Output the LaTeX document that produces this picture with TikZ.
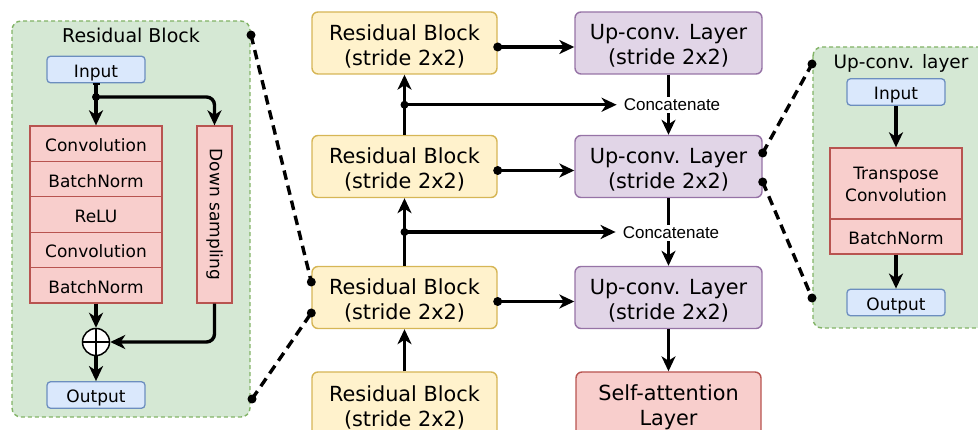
\documentclass[tikz,border=0pt]{standalone}
\usepackage{fontspec}
\setmainfont{DejaVu Sans}
\newfontfamily\catfont{Liberation Sans}
\usetikzlibrary{arrows.meta,calc}

\definecolor{ylwF}{HTML}{FFF2CC}\definecolor{ylwD}{HTML}{D6B656}
\definecolor{pplF}{HTML}{E1D5E7}\definecolor{pplD}{HTML}{9673A6}
\definecolor{redF}{HTML}{F8CECC}\definecolor{redD}{HTML}{B85450}
\definecolor{bluF}{HTML}{DAE8FC}\definecolor{bluD}{HTML}{6C8EBF}
\definecolor{grnF}{HTML}{D5E8D4}\definecolor{grnD}{HTML}{82B366}

\tikzset{
  x=1pt, y=-1pt,
  mainbox/.style={draw, line width=1.4pt, rounded corners=6pt, inner sep=0pt},
  boxtext/.style={align=center, inner sep=0pt, font=\fontsize{20.8}{25}\selectfont},
  smalltext/.style={align=center, inner sep=0pt, font=\fontsize{17}{22}\selectfont},
  resblk/.style={mainbox, fill=ylwF, draw=ylwD, minimum width=185pt, minimum height=62pt},
  upblk/.style={mainbox, fill=pplF, draw=pplD, minimum width=187pt, minimum height=62pt},
  attblk/.style={mainbox, fill=redF, draw=redD, minimum width=185pt, minimum height=64pt},
  iobox/.style={draw=bluD, fill=bluF, line width=1.3pt, rounded corners=3.5pt,
    minimum width=98pt, minimum height=26.5pt, inner sep=0pt,
    text height=15.6pt, text depth=0pt, font=\fontsize{17}{20}\selectfont},
  layer/.style={draw=redD, fill=redF, line width=1.3pt, minimum width=132pt,
    inner sep=0pt, text height=16pt, text depth=0pt, font=\fontsize{17}{21}\selectfont},
  panel/.style={draw=grnD, fill=grnF, line width=1.4pt, dash pattern=on 4pt off 3pt,
    rounded corners=9pt},
  ptitle/.style={font=\fontsize{19}{22}\selectfont, inner sep=0pt},
  flow/.style={line width=3.4pt, -{Stealth[length=15pt,width=14pt,inset=4.5pt]}},
  plain/.style={line width=3.4pt},
  dotnode/.style={circle, fill=black, inner sep=0pt, minimum size=9pt},
  zoomline/.style={line width=3.4pt, dash pattern=on 9.5pt off 6pt},
  catlabel/.style={fill=white, inner sep=2pt, font=\catfont\fontsize{17}{19}\selectfont},
}

\begin{document}
\begin{tikzpicture}
\useasboundingbox (0,0) rectangle (978,430);
\clip (0,0) rectangle (978,430);

% ---------- left panel: inside of a residual block ----------
\draw[panel] (12,21) rectangle (250,417);
\node[ptitle] (lt) at (131,35) {Residual Block};
\node[iobox] (lin) at (96,69.5) {Input};
\node[layer, minimum height=35.4pt] (c1) at (96,143.7) {Convolution};
\node[layer, minimum height=35.4pt] (b1) at (96,179.1) {BatchNorm};
\node[layer, minimum height=35.4pt] (r1) at (96,214.5) {ReLU};
\node[layer, minimum height=35.4pt] (c2) at (96,249.9) {Convolution};
\node[layer, minimum height=35.4pt] (b2) at (96,285.3) {BatchNorm};
\node[draw=redD, fill=redF, line width=1.3pt, minimum width=35pt, minimum height=177pt,
  inner sep=0pt] (ds) at (214.5,214.5) {};
\node[rotate=-90, font=\fontsize{17}{20}\selectfont] at (ds.center) {Down sampling};
\node[circle, draw, fill=white, line width=1.5pt, minimum size=27pt, inner sep=0pt] (sum) at (96,342) {};
\draw[line width=1.5pt] (sum.north) -- (sum.south) (sum.west) -- (sum.east);
\node[iobox] (lout) at (96,395) {Output};

\coordinate (split) at (96,97);
\draw[plain, {Bar[width=7pt,line width=1.5pt]}-] (lin.south) -- (split);
\draw[flow] (split) -- (c1.north);
\draw[flow, rounded corners=8pt] (split) -| (ds.north);
\node[dotnode, minimum size=8pt] at (split) {};
\draw[flow] (b2.south) -- (sum.north);
\draw[flow, rounded corners=8pt] (ds.south) |- (sum.east);
\draw[flow] (sum.south) -- (lout.north);

% ---------- right panel: inside of an up-convolution layer ----------
\draw[panel] (813,47) rectangle (990,328);
\node[ptitle, font=\fontsize{18.5}{22}\selectfont] (rt) at (901,63) {Up-conv. layer};
\node[iobox] (rin) at (896,92) {Input};
\node[layer, minimum height=71pt] (tc) at (896,183.5) {};
\node[smalltext] at ([yshift=-1pt]tc.center) {Transpose\\Convolution};
\node[layer, minimum height=35pt] (rbn) at (896,236.5) {BatchNorm};
\node[iobox] (rout) at (896,302.5) {Output};
\draw[flow] (rin.south) -- (tc.north);
\draw[flow] (rbn.south) -- (rout.north);

% ---------- encoder column ----------
\node[resblk] (rb1) at (404.5,43) {};
\node[resblk] (rb2) at (404.5,166.5) {};
\node[resblk] (rb3) at (404.5,297.5) {};
\node[resblk, minimum height=64pt] (rb4) at (404.5,404) {};
\foreach \b in {rb1, rb2, rb3, rb4}
  \node[boxtext] at ([yshift=-3pt]\b.center) {Residual Block\\(stride 2x2)};

% ---------- decoder column ----------
\node[upblk] (uc1) at (668.5,43) {};
\node[upblk] (uc2) at (668.5,166.5) {};
\node[upblk] (uc3) at (668.5,297.5) {};
\foreach \b in {uc1, uc2, uc3}
  \node[boxtext] at ([yshift=-3pt]\b.center) {Up-conv. Layer\\(stride 2x2)};
\node[attblk] (sa) at (668.5,404) {};
\node[boxtext] at ([yshift=-3pt]sa.center) {Self-attention\\Layer};

% encoder flow
\draw[flow] (rb4.north) -- (rb3.south);
\coordinate (sk2) at ($(rb3.north)!0.5!(rb2.south)$);
\coordinate (sk1) at ($(rb2.north)!0.5!(rb1.south)$);
\draw[flow] (rb3.north) -- (rb2.south);
\draw[flow] (rb2.north) -- (rb1.south);

% decoder flow, labels drawn over the lines
\draw[flow] (uc1.south) -- (uc2.north);
\draw[flow] (uc2.south) -- (uc3.north);
\draw[flow] (uc3.south) -- (sa.north);
\node[catlabel] (cat1) at (672,105) {Concatenate};
\node[catlabel] (cat2) at (671,233) {Concatenate};

% skip connections
\draw[flow] (sk1) -- ([xshift=-5pt]cat1.west |- sk1);
\draw[flow] (sk2) -- ([xshift=-5pt]cat2.west |- sk2);
\node[dotnode, minimum size=8pt] at (sk1) {};
\node[dotnode, minimum size=8pt] at (sk2) {};

% lateral links
\foreach \a/\b in {rb1/uc1, rb2/uc2, rb3/uc3}{
  \draw[flow] ([yshift=-4pt]\a.east) -- ([yshift=-4pt]\b.west);
  \node[dotnode] at ([yshift=-4pt]\a.east) {};
}

% ---------- zoom connectors ----------
\coordinate (zl1) at (251,35);
\coordinate (zl2) at (252,399);
\coordinate (zr1) at (812,64);
\coordinate (zr2) at (812,298);
\draw[zoomline] (zl1) -- ([yshift=15.5pt]rb3.west);
\draw[zoomline] (zl2) -- ([yshift=-15.5pt]rb3.west);
\draw[zoomline] ([yshift=13.5pt]uc2.east) -- (zr1);
\draw[zoomline] ([yshift=-15.5pt]uc2.east) -- (zr2);
\foreach \p in {zl1, zl2, zr1, zr2}{\node[dotnode] at (\p) {};}
\node[dotnode] at ([yshift=15.5pt]rb3.west) {};
\node[dotnode] at ([yshift=-15.5pt]rb3.west) {};
\node[dotnode] at ([yshift=13.5pt]uc2.east) {};
\node[dotnode] at ([yshift=-15.5pt]uc2.east) {};
\end{tikzpicture}
\end{document}
